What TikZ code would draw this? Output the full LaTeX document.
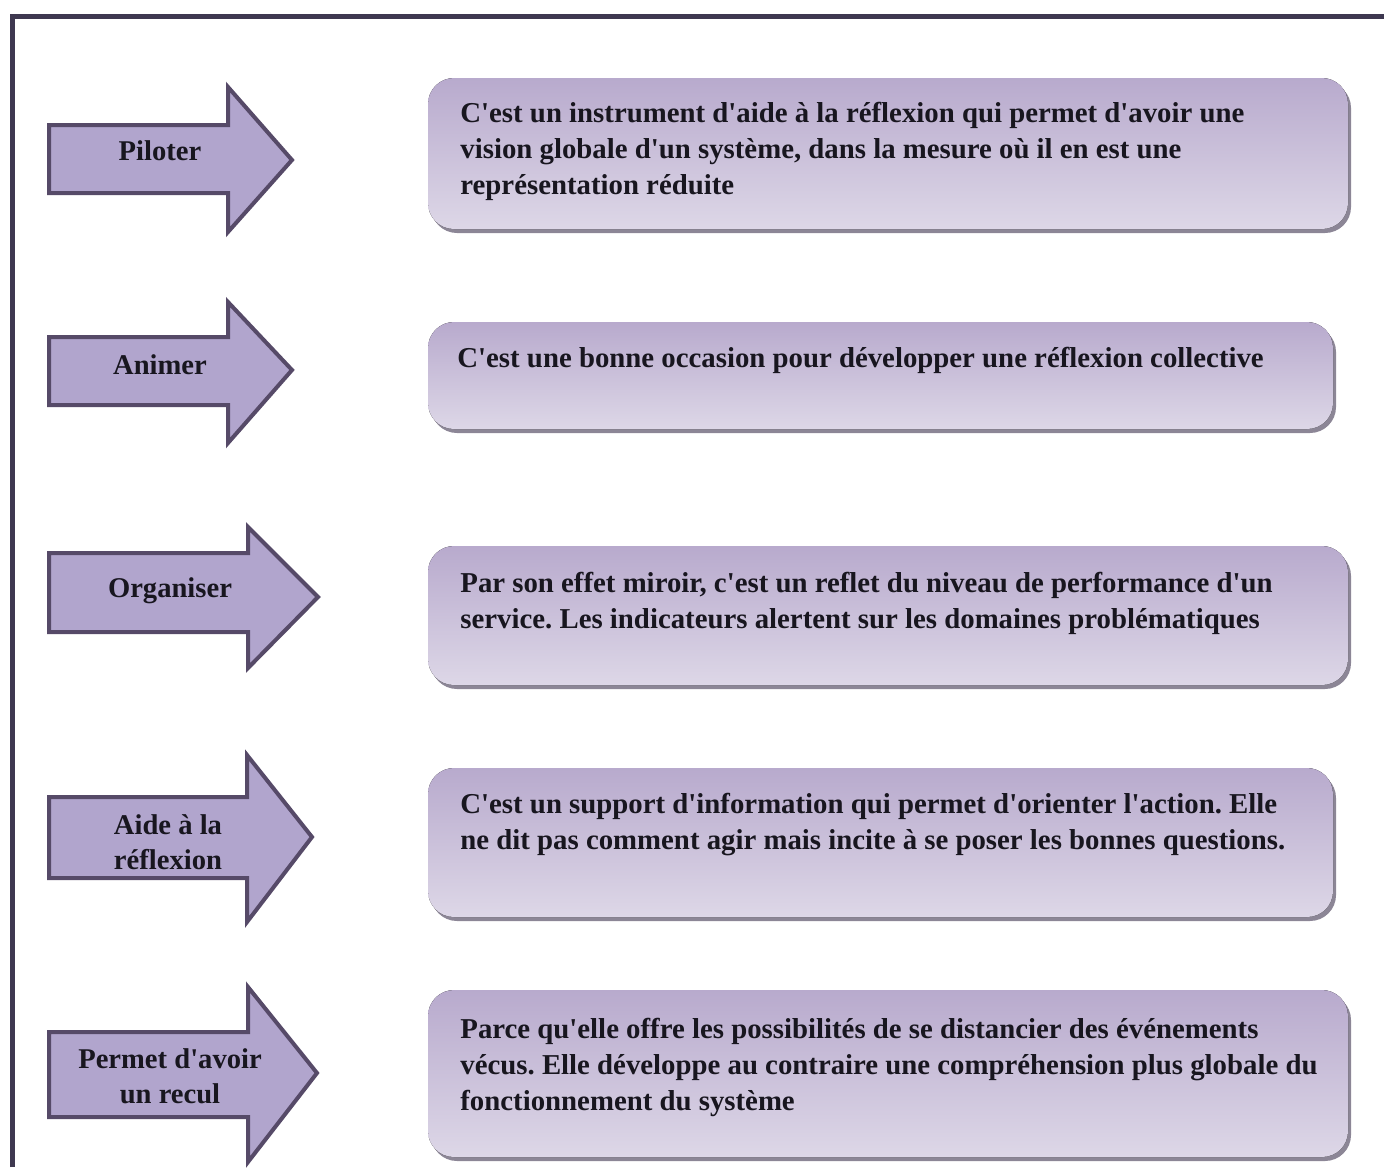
\documentclass[tikz,border=0pt]{standalone}
\usepackage{fontspec}
\setmainfont{Liberation Serif}[Ligatures=TeXOff]
\usetikzlibrary{shadings}
\frenchspacing
\definecolor{framec}{HTML}{3E3850}
\definecolor{arrfill}{HTML}{B1A5CD}
\definecolor{arrdraw}{HTML}{564A68}
\definecolor{boxtop}{HTML}{B8AACD}
\definecolor{boxbot}{HTML}{DDD7E7}
\definecolor{boxshadow}{HTML}{8C8696}
\definecolor{txt}{HTML}{18161F}
\tikzset{
  arrowshape/.style={fill=arrfill, draw=arrdraw, line width=2pt, line join=miter},
  boxshape/.style={rounded corners=13pt, top color=boxtop, bottom color=boxbot, draw=none},
  boxshadowshape/.style={rounded corners=13pt, fill=boxshadow, draw=none},
  boxtext/.style={anchor=north west, inner sep=0pt, align=left, text=txt,
    font=\fontsize{14.4}{18}\selectfont\bfseries\frenchspacing},
  arrtext/.style={anchor=center, inner sep=0pt, align=center, text=txt,
    font=\fontsize{14.3}{17.5}\selectfont\bfseries},
}
\begin{document}
\begin{tikzpicture}[x=0.5pt,y=-0.5pt]
\useasboundingbox (0,0) rectangle (1384,1167);
% frame
\draw[framec, line width=2.5pt] (12,1167) -- (12,16) -- (1384,16);

% arrows: body left, body top, body bottom, head x, head top, head bottom, tip x, tip y
\newcommand{\myarrow}[8]{%
  \draw[arrowshape] (#1,#2) -- (#4,#2) -- (#4,#5) -- (#7,#8) -- (#4,#6) -- (#4,#3) -- (#1,#3) -- cycle;}
\myarrow{49}{125}{193}{228}{87}{232}{292}{160}
\myarrow{49}{337}{405}{228}{302}{443}{292}{370}
\myarrow{49}{553}{632}{248}{527}{668}{318}{597}
\myarrow{49}{797}{878}{247}{755}{922}{312}{837}
\myarrow{49}{1032}{1117}{248}{987}{1162}{317}{1073}

\node[arrtext] (l1) at (160,151) {Piloter};
\node[arrtext] (l2) at (160,365) {Animer};
\node[arrtext] (l3) at (170,591) {Organiser};
\node[arrtext] (l4) at (168,842) {Aide à la\\réflexion};
\node[arrtext] (l5) at (170,1076) {Permet d'avoir\\un recul};

% boxes
\newcommand{\mybox}[4]{%
  \fill[boxshadowshape] (#1+3,#2+4) rectangle (#3+3,#4+4);
  \fill[boxshape] (#1,#2) rectangle (#3,#4);}
\mybox{428}{78}{1348}{229}
\mybox{428}{322}{1333}{429}
\mybox{428}{546}{1348}{685}
\mybox{428}{768}{1333}{917}
\mybox{428}{990}{1348}{1157}

\node[boxtext] (t1) at (460,102) {C'est un instrument d'aide à la réflexion qui permet d'avoir une\\vision globale d'un système, dans la mesure où il en est une\\représentation réduite};
\node[boxtext] (t2) at (457,347) {C'est une bonne occasion pour développer une réflexion collective};
\node[boxtext] (t3) at (460,572) {Par son effet miroir, c'est un reflet du niveau de performance d'un\\service. Les indicateurs alertent sur les domaines problématiques};
\node[boxtext] (t4) at (460,793) {C'est un support d'information qui permet d'orienter l'action. Elle\\ne dit pas comment agir mais incite à se poser les bonnes questions.};
\node[boxtext] (t5) at (460,1018) {Parce qu'elle offre les possibilités de se distancier des événements\\vécus. Elle développe au contraire une compréhension plus globale du\\fonctionnement du système};
\end{tikzpicture}
\end{document}
